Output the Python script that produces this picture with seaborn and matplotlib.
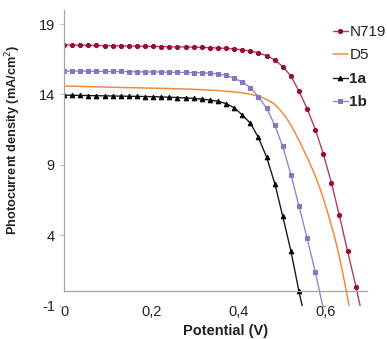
import pandas as pd
import seaborn as sns
import matplotlib.pyplot as plt

# measured voltage points (V), shared by the marker series
volt = [0.000, 0.019, 0.037, 0.056, 0.074, 0.093, 0.112, 0.130, 0.149, 0.167,
        0.186, 0.205, 0.223, 0.242, 0.260, 0.279, 0.298, 0.316, 0.335, 0.353,
        0.372, 0.391, 0.409, 0.428, 0.446, 0.465, 0.484, 0.502, 0.521, 0.539,
        0.558, 0.577, 0.595, 0.614, 0.632, 0.651, 0.670, 0.688]

# photocurrent density (mA/cm2)
n719 = [17.52, 17.51, 17.50, 17.49, 17.48, 17.47, 17.46, 17.45, 17.44, 17.43,
        17.42, 17.41, 17.40, 17.39, 17.38, 17.37, 17.36, 17.34, 17.32, 17.30,
        17.27, 17.23, 17.17, 17.08, 16.95, 16.76, 16.45, 15.98, 15.30, 14.25,
        13.00, 11.50, 9.80, 7.70, 5.40, 2.85, 0.35, -2.2]

dye_1b = [15.66, 15.66, 15.65, 15.65, 15.64, 15.64, 15.63, 15.63, 15.62, 15.61,
          15.60, 15.60, 15.59, 15.58, 15.57, 15.56, 15.55, 15.54, 15.51, 15.46,
          15.35, 15.15, 14.88, 14.48, 13.85, 13.02, 11.80, 10.30, 8.30, 6.10,
          3.80, 1.35, -1.2]

dye_1a = [13.95, 13.94, 13.93, 13.92, 13.91, 13.90, 13.89, 13.88, 13.87, 13.86,
          13.85, 13.84, 13.82, 13.80, 13.78, 13.75, 13.72, 13.67, 13.60, 13.52,
          13.35, 13.05, 12.55, 11.95, 10.95, 9.55, 7.65, 5.35, 2.85, 0.05,
          -2.6]

# D5 is drawn as a plain line
d5_volt = [0, 0.05, 0.1, 0.15, 0.2, 0.25, 0.3, 0.35, 0.4, 0.42, 0.44, 0.455,
           0.47, 0.48, 0.49, 0.50, 0.51, 0.52, 0.53, 0.54, 0.55, 0.56, 0.57,
           0.58, 0.59, 0.60, 0.61, 0.62, 0.63, 0.64, 0.65, 0.66]
d5 = [14.60, 14.56, 14.52, 14.48, 14.45, 14.41, 14.36, 14.28, 14.15, 14.06,
      13.93, 13.78, 13.57, 13.38, 13.10, 12.75, 12.35, 11.85, 11.30, 10.70,
      10.05, 9.40, 8.70, 7.95, 7.10, 6.15, 5.10, 4.00, 2.75, 1.30, -0.30, -2.0]

labels = ['N719', 'D5', '1a', '1b']
xticks = [0, 0.2, 0.4, 0.6]
xticklabels = ['0', '0,2', '0,4', '0,6']
yticks = [-1, 4, 9, 14, 19]

sns.set_style('white')
plt.rcParams['font.family'] = ['Liberation Sans', 'DejaVu Sans']

fig = plt.figure(figsize=(3.87, 3.39), dpi=100)
ax = fig.add_axes([0.1654, 0.0988, 0.788, 0.8717])

sns.lineplot(x=volt[:len(n719)], y=n719, ax=ax, sort=False, estimator=None,
             color='#b33a6c', lw=1.0, marker='o', markersize=3.0,
             markerfacecolor='#9a0f2e', markeredgecolor='#9a0f2e', label=labels[0])
sns.lineplot(x=d5_volt, y=d5, ax=ax, sort=False, estimator=None,
             color='#f28a3c', lw=1.1, label=labels[1])
sns.lineplot(x=volt[:len(dye_1a)], y=dye_1a, ax=ax, sort=False, estimator=None,
             color='#1a1a1a', lw=1.0, marker='^', markersize=3.3,
             markerfacecolor='black', markeredgecolor='black', label=labels[2])
sns.lineplot(x=volt[:len(dye_1b)], y=dye_1b, ax=ax, sort=False, estimator=None,
             color='#8a8ad2', lw=1.0, marker='s', markersize=2.9,
             markerfacecolor='#8676c2', markeredgecolor='#8676c2', label=labels[3])

ax.set_xlim(0, 0.7)
ax.set_ylim(-1, 20)

# axes like the spreadsheet original: x axis crosses at 0
for side in ['top', 'right']:
    ax.spines[side].set_visible(False)
ax.spines['bottom'].set_position(('data', 0))
ax.spines['bottom'].set_bounds(0, 0.695)
ax.spines['left'].set_bounds(0, 20)
for side in ['bottom', 'left']:
    ax.spines[side].set_color('#a6a6a6')
    ax.spines[side].set_linewidth(0.9)

ax.set_xticks(xticks)
ax.set_xticklabels(xticklabels)
ax.set_yticks(yticks)
ax.set_yticklabels([str(v) for v in yticks])
ax.tick_params(axis='x', direction='in', length=3, color='#c8c8c8',
               labelsize=10.5, pad=9.5, labelcolor='#222222')
ax.tick_params(axis='y', direction='out', length=3.5, color='#c8c8c8',
               labelsize=10.5, pad=3, labelcolor='#222222', left=True)

ax.set_xlabel('Potential (V)', fontsize=10.5, fontweight='bold', color='#222222')
ax.set_ylabel('Photocurrent density (mA/cm$^2$)', fontsize=9.2, fontweight='bold',
              color='#222222')
ax.xaxis.set_label_coords(0.53, -0.062)
ax.yaxis.set_label_coords(-0.133, 0.56)

leg = ax.legend(loc='upper left', bbox_to_anchor=(333 / 387, 1 - 25 / 339),
                bbox_transform=fig.transFigure, frameon=False, fontsize=11,
                handlelength=0.95, handletextpad=0.12, labelspacing=0.62,
                borderpad=0, borderaxespad=0)
for t in leg.get_texts():
    t.set_color('#222222')
leg.get_texts()[2].set_fontweight('bold')
leg.get_texts()[3].set_fontweight('bold')

fig.savefig('out.png', dpi=100)
